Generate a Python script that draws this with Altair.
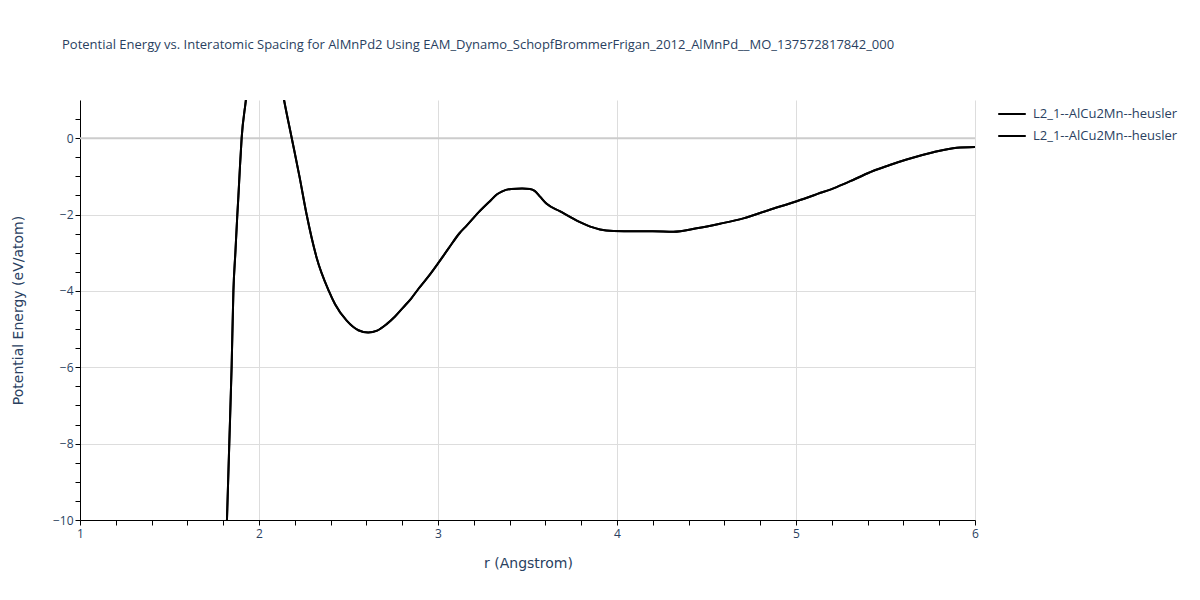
import altair as alt
import pandas as pd

TITLE = "Potential Energy vs. Interatomic Spacing for AlMnPd2 Using EAM_Dynamo_SchopfBrommerFrigan_2012_AlMnPd__MO_137572817842_000"
SERIES_LABEL = "L2_1--AlCu2Mn--heusler"
SERIES_KEYS = ["trace_1", "trace_2"]

r_values = [1.821, 1.834, 1.847, 1.857, 1.868, 1.879, 1.885, 1.893, 1.903, 1.926, 1.95,
            2.1, 2.14, 2.183, 2.226, 2.266, 2.322, 2.39, 2.425, 2.49, 2.555,
            2.61, 2.66, 2.713, 2.76, 2.806, 2.85, 2.89, 2.95, 3.00, 3.06, 3.12,
            3.16, 3.225, 3.29, 3.33, 3.356, 3.41, 3.47, 3.514, 3.54, 3.57,
            3.607, 3.68, 3.79, 3.86, 3.905, 3.98, 4.1, 4.2, 4.315, 4.445, 4.575,
            4.706, 4.85, 5.004, 5.12, 5.227, 5.33, 5.43, 5.52, 5.618, 5.767,
            5.898, 6.0]
energy_values = [-10.0, -8.0, -6.0, -4.0, -3.0, -2.0, -1.51, -0.8, 0.0, 0.97, 2.0,
                 2.1, 1.0, 0.0, -1.0, -2.0, -3.13, -4.0, -4.35, -4.78, -5.03,
                 -5.09, -5.04, -4.87, -4.67, -4.43, -4.2, -3.95, -3.6, -3.28, -2.88, -2.49,
                 -2.29, -1.95, -1.65, -1.47, -1.40, -1.33, -1.32, -1.33, -1.38, -1.53,
                 -1.72, -1.91, -2.19, -2.33, -2.39, -2.43, -2.44, -2.44, -2.45, -2.36, -2.24,
                 -2.10, -1.88, -1.65, -1.46, -1.28, -1.07, -0.86, -0.71, -0.56, -0.37,
                 -0.25, -0.23]

x_tick_values = [1.0, 1.2, 1.4, 1.6, 1.8, 2.0, 2.2, 2.4, 2.6, 2.8, 3.0, 3.2, 3.4, 3.6,
                 3.8, 4.0, 4.2, 4.4, 4.6, 4.8, 5.0, 5.2, 5.4, 5.6, 5.8, 6.0]
y_tick_values = [-10.0, -9.5, -9.0, -8.5, -8.0, -7.5, -7.0, -6.5, -6.0, -5.5, -5.0,
                 -4.5, -4.0, -3.5, -3.0, -2.5, -2.0, -1.5, -1.0, -0.5, 0.0, 0.5]
zero_line = [0.0]

rows = []
for key in SERIES_KEYS:
    for i, (r, e) in enumerate(zip(r_values, energy_values)):
        rows.append({"r": r, "E": e, "series": key, "order": i})
df = pd.DataFrame(rows)

FONT = "Open Sans"
TFONT = "DejaVu Sans"
TXT = "#2a3f5f"

x_scale = alt.Scale(domain=[1, 6], nice=False, zero=False)
y_scale = alt.Scale(domain=[-10, 1], nice=False, zero=False)

x_axis = alt.Axis(
    values=x_tick_values,
    labelExpr="abs(datum.value - round(datum.value)) < 1e-6 ? format(datum.value, 'd') : ''",
    title="r (Angstrom)", titleX=448, titleY=43, titleBaseline="middle",
    titleFontSize=14, titleFontWeight="normal", titleColor=TXT, titleFont=TFONT,
    labelFont=FONT, labelFontSize=12, labelColor=TXT, labelPadding=3,
    domainColor="black", domainWidth=1, tickColor="black", tickSize=5,
    grid=True, gridColor="#dddddd", gridWidth=1,
    gridOpacity={"condition": {"test": "abs(datum.value - round(datum.value)) < 1e-6", "value": 1}, "value": 0},
    labelFlush=False, labelOverlap=False,
)
y_axis = alt.Axis(
    values=y_tick_values,
    labelExpr="abs(datum.value/2 - round(datum.value/2)) < 1e-6 ? replace(format(datum.value, 'd'), '-', '\u2212') : ''",
    title="Potential Energy (eV/atom)", titleX=-62, titleY=210, titleBaseline="middle",
    titleAlign="center", titleAngle=-90,
    titleFontSize=14, titleFontWeight="normal", titleColor=TXT, titleFont=TFONT,
    labelFont=FONT, labelFontSize=12, labelColor=TXT, labelPadding=2,
    domainColor="black", domainWidth=1, tickColor="black", tickSize=5,
    grid=True, gridColor="#dddddd", gridWidth=1,
    gridOpacity={"condition": {"test": "abs(datum.value/2 - round(datum.value/2)) < 1e-6 && datum.value != 0", "value": 1}, "value": 0},
    labelFlush=False, labelOverlap=False,
)

zero = alt.Chart(pd.DataFrame({"y": zero_line})).mark_rule(
    color="#cccccc", strokeWidth=2, clip=True
).encode(y=alt.Y("y:Q", scale=y_scale, axis=y_axis))

lines = alt.Chart(df).mark_line(strokeWidth=2, clip=True, interpolate="monotone").encode(
    x=alt.X("r:Q", scale=x_scale, axis=x_axis),
    y=alt.Y("E:Q", scale=y_scale, axis=y_axis),
    order="order:Q",
    color=alt.Color(
        "series:N",
        scale=alt.Scale(domain=SERIES_KEYS, range=["black", "black"]),
        legend=alt.Legend(
            title=None, orient="none", legendX=917, legendY=-1,
            symbolType="stroke", symbolStrokeWidth=2, symbolSize=760,
            labelExpr=f"'{SERIES_LABEL}'", labelFont=FONT, labelFontSize=13,
            labelColor=TXT, rowPadding=-4, labelOffset=6,
        ),
    ),
)

chart = alt.layer(zero, lines).properties(
    width=895, height=420,
    title=alt.TitleParams(TITLE, anchor="start", frame="group", dx=-18, offset=47, font=FONT,
                          fontSize=13, fontWeight="normal", color=TXT),
    autosize=alt.AutoSizeParams(type="none"),
    padding={"left": 72, "top": 92, "right": 217, "bottom": 72},
).configure_view(stroke=None)

chart.save("out.html", embed_options={"renderer": "svg", "actions": False})
